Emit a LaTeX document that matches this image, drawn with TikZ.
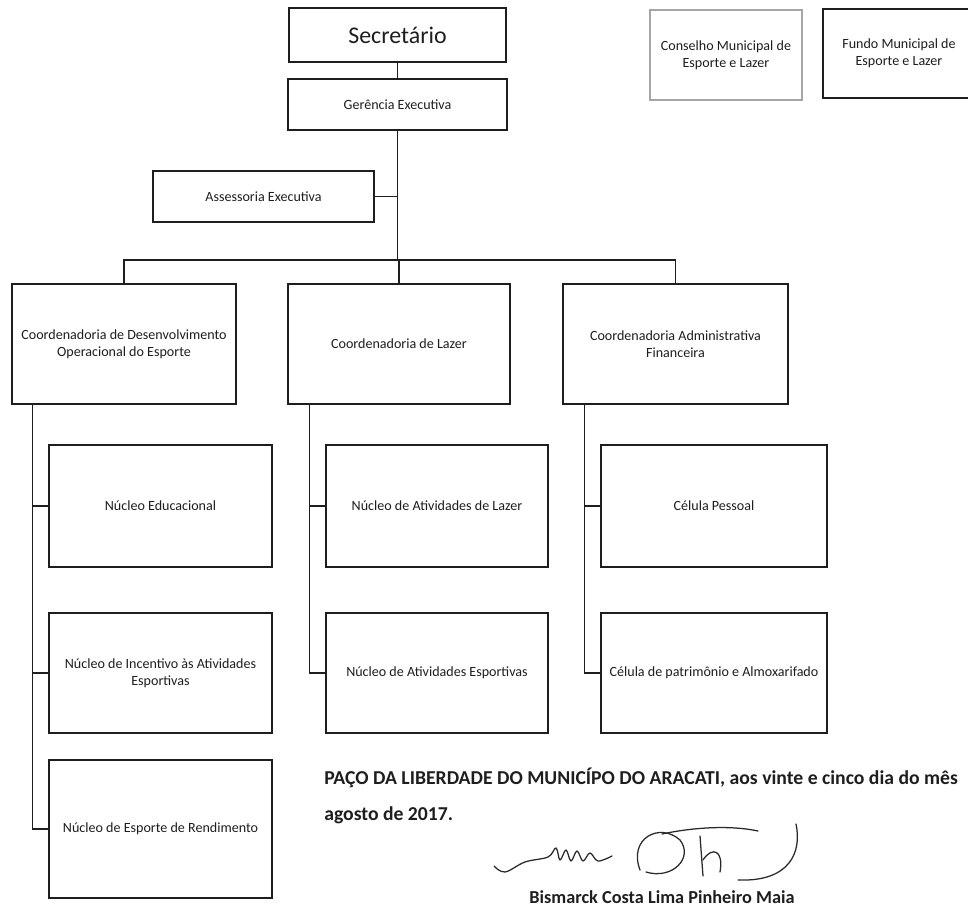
\documentclass[tikz,border=0pt]{standalone}
\usepackage{fontspec}
\setmainfont{Carlito}
\usetikzlibrary{
  calc,
  positioning
}
\definecolor{Ink}{HTML}{1E1E1E}
\definecolor{FaintInk}{HTML}{A6A6A6}
\definecolor{PenInk}{HTML}{2A2A2A}
\newcommand{\chartnormalfont}{\fontsize{10}{12.2}\selectfont}
\newcommand{\charttopfont}{\fontsize{17}{20}\selectfont}
\newcommand{\chartdecreefont}{\bfseries\fontsize{14}{17}\selectfont}
\newcommand{\chartsignfont}{\bfseries\fontsize{13}{15}\selectfont}
\tikzset{
  % Global typography and box geometry (sizes given in scan pixels).
  every node/.style={font=\chartnormalfont, text=Ink},
  org box/.style 2 args={
    draw=Ink,
    line width=1.15pt,
    fill=white,
    align=center,
    inner sep=2pt,
    minimum width=#1*0.025cm,
    minimum height=#2*0.025cm
  },
  faint box/.style 2 args={
    org box={#1}{#2},
    draw=FaintInk,
    line width=0.8pt
  },
  link/.style={
    draw=Ink,
    line width=0.75pt
  },
  decree text/.style={
    font=\chartdecreefont,
    anchor=west,
    inner sep=0pt
  },
  sign name/.style={
    font=\chartsignfont,
    inner sep=0pt
  },
  signature/.style={
    draw=PenInk,
    line width=0.9pt,
    line cap=round,
    line join=round
  }
}

\begin{document}
\begin{tikzpicture}[x=0.025cm, y=-0.025cm]
\useasboundingbox (0,0) rectangle (968,906);

% ---------------------------------------------------------------------------
% Top of the chart: secretary, executive management and the two councils
% ---------------------------------------------------------------------------
\node[org box={217}{54}, font=\charttopfont] (secretario) at (397.5,35) {Secretário};
\node[org box={219}{51}] (gerencia) at (397.5,104.5) {Gerência Executiva};

\node[faint box={152}{90}] (conselho) at (726,55)
  {Conselho Municipal de\\Esporte e Lazer};
\node[org box={152}{89}] (fundo) at (899,53.5)
  {Fundo Municipal de\\Esporte e Lazer};

\node[org box={221}{51}] (assessoria) at (263.5,196.5) {Assessoria Executiva};

\coordinate (bus) at (397.5,260);

\draw[link] (secretario) -- (gerencia);
\draw[link] (gerencia.south) -- (bus);
\draw[link] (assessoria.east) -- (assessoria.east -| gerencia.south);

% ---------------------------------------------------------------------------
% Coordinations
% ---------------------------------------------------------------------------
\node[org box={224}{120}] (desenv) at (124,344)
  {Coordenadoria de Desenvolvimento\\Operacional do Esporte};
\node[org box={222}{120}] (lazer) at (399,344)
  {Coordenadoria de Lazer};
\node[org box={225}{120}] (admin) at (675.5,344)
  {Coordenadoria Administrativa\\Financeira};

\draw[link] (desenv.north) |- (bus) -| (admin.north);
\draw[link] (lazer.north) -- (lazer.north |- bus);

% ---------------------------------------------------------------------------
% Units under each coordination
% ---------------------------------------------------------------------------
\node[org box={223}{122}] (educacional) at (160.5,506) {Núcleo Educacional};
\node[org box={223}{120}] (incentivo) at (160.5,673)
  {Núcleo de Incentivo às Atividades\\Esportivas};
\node[org box={223}{138}] (rendimento) at (160.5,829)
  {Núcleo de Esporte de Rendimento};

\node[org box={222}{122}] (ativLazer) at (437,506) {Núcleo de Atividades de Lazer};
\node[org box={222}{120}] (ativEsport) at (437,673) {Núcleo de Atividades Esportivas};

\node[org box={226}{122}] (pessoal) at (714,506) {Célula Pessoal};
\node[org box={226}{120}] (patrimonio) at (714,673)
  {Célula de patrimônio e Almoxarifado};

% Trunks drop from the left part of each coordination box.
\coordinate (desenvTrunk) at ($(desenv.south west)+(21,0)$);
\coordinate (lazerTrunk) at ($(lazer.south west)+(22,0)$);
\coordinate (adminTrunk) at ($(admin.south west)+(22,0)$);

\draw[link] (desenvTrunk) |- (rendimento.west);
\draw[link] (educacional.west) -- (educacional.west -| desenvTrunk);
\draw[link] (incentivo.west) -- (incentivo.west -| desenvTrunk);

\draw[link] (lazerTrunk) |- (ativEsport.west);
\draw[link] (ativLazer.west) -- (ativLazer.west -| lazerTrunk);

\draw[link] (adminTrunk) |- (patrimonio.west);
\draw[link] (pessoal.west) -- (pessoal.west -| adminTrunk);

% ---------------------------------------------------------------------------
% Closing text and signature
% ---------------------------------------------------------------------------
\node[decree text] (paco) at (324,778)
  {PAÇO DA LIBERDADE DO MUNICÍPO DO ARACATI, aos vinte e cinco dia do mês};
\node[decree text] (agosto) at (324,815) {agosto de 2017.};

\draw[signature] plot[smooth, tension=0.6] coordinates {
  (494,866) (505,872) (525,862) (548,857) (556,848) (560,860) (566,850)
  (571,861) (577,851) (583,861) (590,853) (598,861) (612,856)};
\draw[signature] (640,870) .. controls (628,838) and (660,822) .. (680,840)
  .. controls (694,858) and (672,880) .. (646,872);
\draw[signature] (662,834) .. controls (700,826) and (735,826) .. (758,831);
\draw[signature] (700,836) -- (703,876);
\draw[signature] (703,860) .. controls (712,846) and (724,850) .. (720,872);
\draw[signature] (738,880) .. controls (790,882) and (802,852) .. (796,824);

\node[sign name] (signName) at (662,897) {Bismarck Costa Lima Pinheiro Maia};

\end{tikzpicture}
\end{document}
